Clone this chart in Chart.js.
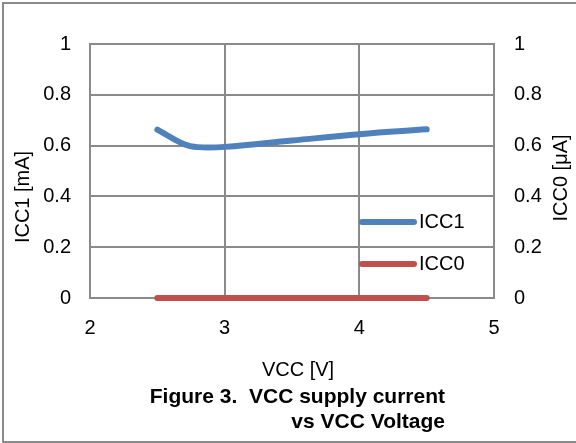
<!DOCTYPE html>
<html>
<head>
<meta charset="utf-8">
<script src="https://cdn.jsdelivr.net/npm/chart.js@4"></script>
<style>
  html, body { margin: 0; padding: 0; background: #fff; }
  #wrap { width: 576px; height: 443px; }
</style>
</head>
<body>
<div id="wrap"><canvas id="vccChart" width="576" height="443"></canvas></div>
<script>
// data
const voltage = [2.5, 2.7, 2.8, 3.0, 3.5, 4.0, 4.5];
const icc1 = [0.663, 0.605, 0.594, 0.595, 0.62, 0.645, 0.664];   // mA
const icc0 = [0, 0, 0, 0, 0, 0, 0];                              // uA
const xTickLabels = { 2: '2', 3: '3', 4: '4', 5: '5' };
const yTickLabels = ['0', '0.2', '0.4', '0.6', '0.8', '1'];

const fontFamily = "'Liberation Sans', Arial, sans-serif";
const gridColor = '#8a8a8a';
const textColor = '#000';
const textSize = 20;

Chart.defaults.font.family = fontFamily;
Chart.defaults.color = textColor;

function yLabel(value) {
  const idx = Math.round(value / 0.2);
  return yTickLabels[idx];
}

// outer frame, axis titles, caption and in-plot legend
const extras = {
  id: 'extras',
  beforeDraw(chart) {
    const ctx = chart.ctx;
    ctx.save();
    ctx.fillStyle = '#fff';
    ctx.fillRect(0, 0, chart.width, chart.height);
    ctx.strokeStyle = gridColor;
    ctx.lineWidth = 2;
    ctx.strokeRect(3, 3, 590, 439);
    ctx.restore();
  },
  afterDraw(chart) {
    const ctx = chart.ctx;
    ctx.save();
    ctx.fillStyle = textColor;
    ctx.textBaseline = 'middle';

    ctx.font = textSize + 'px ' + fontFamily;
    ctx.textAlign = 'center';
    ctx.fillText('VCC [V]', 298, 370);

    ctx.save();
    ctx.translate(23, 197);
    ctx.rotate(-Math.PI / 2);
    ctx.fillText('ICC1 [mA]', 0, 0);
    ctx.restore();

    ctx.save();
    ctx.translate(561, 178);
    ctx.rotate(-Math.PI / 2);
    ctx.fillText('ICC0 [\u03bcA]', 0, 0);
    ctx.restore();

    ctx.font = 'bold 21px ' + fontFamily;
    ctx.textAlign = 'right';
    ctx.fillText('Figure 3.  VCC supply current', 445, 397);
    ctx.fillText('vs VCC Voltage', 445, 422);

    // legend inside the plot
    const rows = [222, 264];
    chart.data.datasets.forEach((ds, i) => {
      ctx.strokeStyle = ds.borderColor;
      ctx.lineWidth = ds.borderWidth;
      ctx.lineCap = 'round';
      ctx.beginPath();
      ctx.moveTo(362, rows[i]);
      ctx.lineTo(414, rows[i]);
      ctx.stroke();
      ctx.font = textSize + 'px ' + fontFamily;
      ctx.textAlign = 'left';
      ctx.fillText(ds.label, 419, rows[i]);
    });
    ctx.restore();
  }
};

const ctx = document.getElementById('vccChart').getContext('2d');
new Chart(ctx, {
  type: 'line',
  data: {
    datasets: [{
      label: 'ICC1',
      data: voltage.map((v, i) => ({ x: v, y: icc1[i] })),
      borderColor: '#4F81BD',
      borderWidth: 6,
      borderCapStyle: 'round',
      tension: 0.4,
      pointRadius: 0,
      clip: false,
      yAxisID: 'y'
    }, {
      label: 'ICC0',
      data: voltage.map((v, i) => ({ x: v, y: icc0[i] })),
      borderColor: '#C0504D',
      borderWidth: 6,
      borderCapStyle: 'round',
      pointRadius: 0,
      clip: false,
      yAxisID: 'y1'
    }]
  },
  options: {
    responsive: false,
    animation: false,
    layout: { padding: { top: 44, left: 0, right: 0, bottom: 0 } },
    plugins: {
      legend: { display: false },
      tooltip: { enabled: false }
    },
    scales: {
      x: {
        type: 'linear',
        min: 2,
        max: 5,
        afterFit(scale) { scale.height = 145; },
        ticks: {
          stepSize: 1,
          padding: 18,
          font: { size: textSize },
          callback: v => xTickLabels[v]
        },
        grid: { color: gridColor, lineWidth: 2, drawTicks: false },
        border: { color: gridColor, width: 2 }
      },
      y: {
        position: 'left',
        min: 0,
        max: 1,
        afterFit(scale) { scale.width = 90; },
        ticks: {
          stepSize: 0.2,
          padding: 19,
          font: { size: textSize },
          callback: yLabel
        },
        grid: { color: gridColor, lineWidth: 2, drawTicks: false },
        border: { color: gridColor, width: 2 }
      },
      y1: {
        position: 'right',
        min: 0,
        max: 1,
        afterFit(scale) { scale.width = 82; },
        ticks: {
          stepSize: 0.2,
          padding: 20,
          font: { size: textSize },
          callback: yLabel
        },
        grid: { drawOnChartArea: false, drawTicks: false },
        border: { color: gridColor, width: 2 }
      }
    }
  },
  plugins: [extras]
});
</script>
</body>
</html>
